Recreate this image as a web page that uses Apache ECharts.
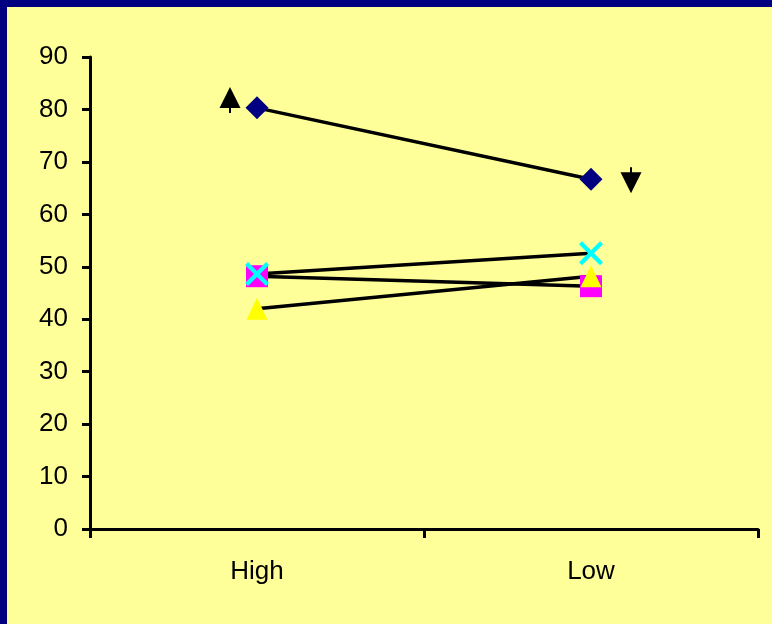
<!DOCTYPE html>
<html><head><meta charset="utf-8">
<script src="https://cdn.jsdelivr.net/npm/echarts@6/dist/echarts.min.js"></script>
<style>html,body{margin:0;padding:0;background:#000080;}#c{width:772px;height:624px;}</style>
</head><body><div id="c"></div>
<script>
const categories = ['High', 'Low'];
const yTicks = [0, 10, 20, 30, 40, 50, 60, 70, 80, 90];
const seriesDiamond = [80.3, 66.7];
const seriesSquare = [48.2, 46.3];
const seriesTriangle = [42.0, 48.2];
const seriesCross = [48.6, 52.6];
const arrowUp = [['High', 81.8]];
const arrowDown = [['Low', 66.5]];

const chart = echarts.init(document.getElementById('c'), null, {renderer: 'canvas'});
const font = '"Liberation Sans", Arial, sans-serif';
const crossPath = 'path://M0,3 L3,0 L12,9 L21,0 L24,3 L15,12 L24,21 L21,24 L12,15 L3,24 L0,21 L9,12 Z';
const upPath = 'path://M10.5,0 L21,21 L11.5,21 L11.5,26 L9.5,26 L9.5,21 L0,21 Z';
const downPath = 'path://M9.5,0 L11.5,0 L11.5,5 L21,5 L10.5,26 L0,5 L9.5,5 Z';
function lineSeries(name, data, symbol, size, color) {
  return {
    name, type: 'line', data, symbol, symbolSize: size,
    lineStyle: {color: '#000', width: 3.5},
    itemStyle: {color: color, borderWidth: 0, opacity: 1},
    emphasis: {disabled: true}, animation: false
  };
}
chart.setOption({
  backgroundColor: '#FFFF99',
  animation: false,
  graphic: [
    {type: 'rect', shape: {x: 0, y: 0, width: 772, height: 7}, style: {fill: '#000080'}, z: 100},
    {type: 'rect', shape: {x: 0, y: 0, width: 7, height: 624}, style: {fill: '#000080'}, z: 100}
  ],
  grid: {left: 90, right: 14, top: 57, bottom: 95, containLabel: false},
  xAxis: {
    type: 'category', data: categories, boundaryGap: true,
    axisLine: {lineStyle: {color: '#000', width: 3}},
    axisTick: {show: true, length: 9, lineStyle: {color: '#000', width: 3}},
    axisLabel: {color: '#000', fontSize: 26, fontFamily: font, margin: 30},
    splitLine: {show: false}
  },
  yAxis: {
    type: 'value', min: yTicks[0], max: yTicks[yTicks.length - 1], interval: 10,
    axisLine: {show: true, lineStyle: {color: '#000', width: 3}},
    axisTick: {show: true, length: 8, lineStyle: {color: '#000', width: 3}},
    axisLabel: {color: '#000', fontSize: 26, fontFamily: font, margin: 22},
    splitLine: {show: false}
  },
  series: [
    lineSeries('A', seriesDiamond, 'diamond', 23, '#000080'),
    lineSeries('B', seriesSquare, 'rect', 22, '#FF00FF'),
    lineSeries('C', seriesTriangle, 'triangle', [21, 22], '#FFFF00'),
    lineSeries('D', seriesCross, crossPath, 24, '#00FFFF'),
    {type: 'scatter', data: arrowUp, symbol: upPath, symbolSize: [21, 26], symbolOffset: [-27, 0],
      itemStyle: {color: '#000', opacity: 1}, emphasis: {disabled: true}},
    {type: 'scatter', data: arrowDown, symbol: downPath, symbolSize: [21, 26], symbolOffset: [40, 0],
      itemStyle: {color: '#000', opacity: 1}, emphasis: {disabled: true}}
  ]
});
</script></body></html>
